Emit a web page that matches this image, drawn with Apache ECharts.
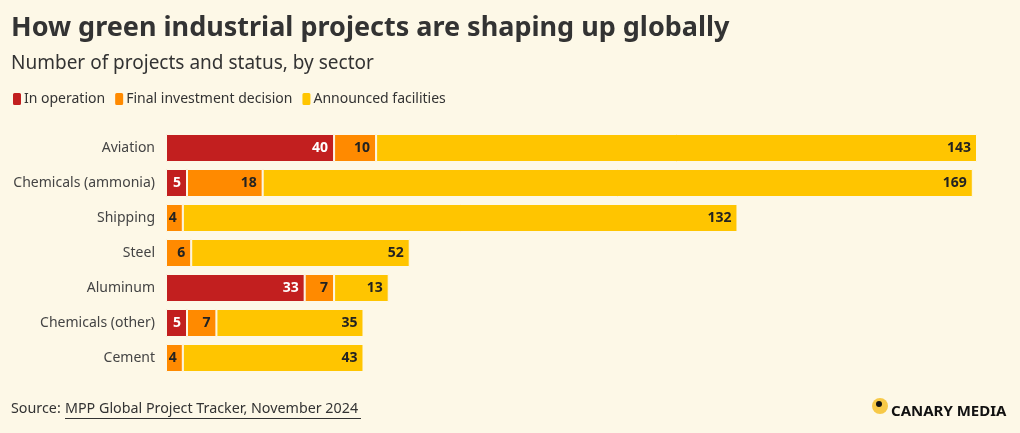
<!DOCTYPE html>
<html><head><meta charset="utf-8">
<script src="https://cdn.jsdelivr.net/npm/echarts@6/dist/echarts.min.js"></script>
<style>html,body{margin:0;padding:0;background:#fdf8e7;}#c{width:1020px;height:433px;}</style>
</head><body><div id="c"></div>
<script>
const categories = ["Aviation","Chemicals (ammonia)","Shipping","Steel","Aluminum","Chemicals (other)","Cement"];
const inOperation = [40,5,0,0,33,5,0];
const finalInvestment = [10,18,4,6,7,7,4];
const announced = [143,169,132,52,13,35,43];
const seriesNames = ["In operation","Final investment decision","Announced facilities"];
const colors = ["#c21f1f","#ff8a00","#ffc500"];
const labelColors = ["#ffffff","#222222","#222222"];

const chart = echarts.init(document.getElementById('c'));
const font = "'Noto Sans', sans-serif";
function mk(i, data){
  return {
    name: seriesNames[i], type:'bar', stack:'t', barCategoryGap:'20%',
    data: data.map(v => v === 0 ? null : v),
    itemStyle:{color:colors[i], borderColor:'#fdf8e7', borderWidth:1},
    label:{show:true, position:'insideRight', color:labelColors[i], fontWeight:'bold', fontSize:14, fontFamily:font, distance:6},
    emphasis:{disabled:true}
  };
}
chart.setOption({
  backgroundColor:'#fdf8e7',
  animation:false,
  title:[
    {text:'How green industrial projects are shaping up globally', left:11, top:15, padding:0,
     textStyle:{fontFamily:font, fontWeight:'bold', fontSize:27, color:'#333333'}},
    {text:'Number of projects and status, by sector', left:11, top:54, padding:0,
     textStyle:{fontFamily:font, fontWeight:'normal', fontSize:19, color:'#333333'}}
  ],
  legend:{left:11, top:91, padding:0, itemWidth:10, itemHeight:14, itemGap:8, icon:'roundRect',
    textStyle:{fontFamily:font, fontSize:14, color:'#333333', padding:[0,0,0,-3]}, selectedMode:false,
    data:seriesNames},
  grid:{left:166, right:43, top:130.5, bottom:57.5, containLabel:false},
  xAxis:{type:'value', min:0, max:193, show:false},
  yAxis:{type:'category', data:categories, inverse:true,
    axisLine:{show:false}, axisTick:{show:false},
    axisLabel:{fontFamily:font, fontSize:14, color:'#444444', margin:11}},
  series:[mk(0,inOperation), mk(1,finalInvestment), mk(2,announced)],
  graphic:[
    {type:'text', left:11, top:402, style:{text:'Source: ', font:"14.3px 'Noto Sans', sans-serif", fill:'#333'}},
    {type:'text', left:65, top:402, style:{text:'MPP Global Project Tracker, November 2024', font:"14.3px 'Noto Sans', sans-serif", fill:'#333'}},
    {type:'rect', left:65, top:418, shape:{width:296, height:1}, style:{fill:'#333'}},
    {type:'circle', shape:{cx:880, cy:406, r:8}, style:{fill:'#f7c948'}},
    {type:'circle', shape:{cx:879, cy:404, r:3}, style:{fill:'#111'}},
    {type:'text', left:891, top:404, style:{text:'CANARY MEDIA', font:"bold 15px 'Noto Sans', sans-serif", fill:'#111'}}
  ]
});
</script></body></html>
